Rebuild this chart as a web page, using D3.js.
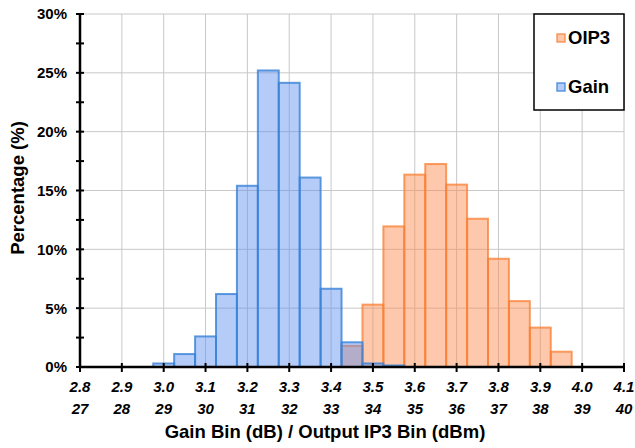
<!DOCTYPE html>
<html>
<head>
<meta charset="utf-8">
<script src="https://cdn.jsdelivr.net/npm/d3@7"></script>
<style>
  html, body { margin: 0; padding: 0; background: #fff; }
  svg { display: block; font-family: "Liberation Sans", Arial, sans-serif; }
</style>
</head>
<body>
<svg id="chart" width="635" height="448"></svg>
<script>
// ---- data ----
const gainBins = [3.0, 3.05, 3.1, 3.15, 3.2, 3.25, 3.3, 3.35, 3.4, 3.45, 3.5, 3.55];
const gainPct  = [0.3, 1.1, 2.6, 6.2, 15.4, 25.2, 24.15, 16.1, 6.65, 2.1, 0.3, 0.13];
const oipBins  = [33.5, 34, 34.5, 35, 35.5, 36, 36.5, 37, 37.5, 38, 38.5];
const oipPct   = [1.8, 5.3, 11.95, 16.35, 17.25, 15.5, 12.6, 9.2, 5.6, 3.35, 1.3];
const gainTicks = [2.8, 2.9, 3.0, 3.1, 3.2, 3.3, 3.4, 3.5, 3.6, 3.7, 3.8, 3.9, 4.0, 4.1];
const oipTicks  = [27, 28, 29, 30, 31, 32, 33, 34, 35, 36, 37, 38, 39, 40];
const yTicks    = [0, 5, 10, 15, 20, 25, 30];
const seriesNames = ["OIP3", "Gain"];

// ---- layout ----
const L = 80, R = 624, T = 14, B = 367;
const svg = d3.select("#chart");
const x = d3.scaleLinear().domain([2.8, 4.1]).range([L, R]);
const xo = d3.scaleLinear().domain([27, 40]).range([L, R]);
const y = d3.scaleLinear().domain([0, 30]).range([B, T]);

// grid
const grid = svg.append("g");
grid.selectAll("line.v").data(gainTicks.slice(1)).join("line")
  .attr("x1", d => x(d)).attr("x2", d => x(d)).attr("y1", T).attr("y2", B)
  .attr("stroke", "#c8c8c8").attr("stroke-width", 1);
grid.selectAll("line.h").data(yTicks.slice(1)).join("line")
  .attr("x1", L).attr("x2", R).attr("y1", d => y(d)).attr("y2", d => y(d))
  .attr("stroke", "#c8c8c8").attr("stroke-width", 1);

// bars
const oipW = 0.5, gainW = 0.05;
svg.append("g").selectAll("rect").data(oipBins.map((b, i) => ({b, v: oipPct[i]}))).join("rect")
  .attr("x", d => xo(d.b - oipW / 2)).attr("width", d => xo(d.b + oipW / 2) - xo(d.b - oipW / 2))
  .attr("y", d => y(d.v)).attr("height", d => y(0) - y(d.v))
  .attr("fill", "rgba(250,140,80,0.48)")
  .attr("stroke", "rgba(250,125,50,0.75)").attr("stroke-width", 2);

svg.append("g").selectAll("rect").data(gainBins.map((b, i) => ({b, v: gainPct[i]}))).join("rect")
  .attr("x", d => x(d.b - gainW / 2)).attr("width", d => x(d.b + gainW / 2) - x(d.b - gainW / 2))
  .attr("y", d => y(d.v)).attr("height", d => y(0) - y(d.v))
  .attr("fill", "rgba(90,140,240,0.45)")
  .attr("stroke", "rgba(55,130,215,0.8)").attr("stroke-width", 2);

// y axis
const yAxis = svg.append("g");
yAxis.append("line").attr("x1", L).attr("x2", L).attr("y1", T).attr("y2", B + 1)
  .attr("stroke", "#000").attr("stroke-width", 2.5);
const yMinor = d3.range(0, 30.01, 2.5);
yAxis.selectAll("line.t").data(yMinor).join("line")
  .attr("x1", L - 4).attr("x2", L + 4).attr("y1", d => y(d)).attr("y2", d => y(d))
  .attr("stroke", "#000").attr("stroke-width", 2);
yAxis.selectAll("text").data(yTicks).join("text")
  .attr("x", 67).attr("y", d => y(d)).attr("dy", "0.36em")
  .attr("text-anchor", "end").attr("font-size", 15).attr("font-weight", "bold")
  .text(d => d + "%");

// x axis
const xAxis = svg.append("g");
xAxis.append("line").attr("x1", L - 1).attr("x2", R + 1).attr("y1", B).attr("y2", B)
  .attr("stroke", "#000").attr("stroke-width", 2.5);
xAxis.selectAll("line.t").data(gainTicks).join("line")
  .attr("x1", d => x(d)).attr("x2", d => x(d)).attr("y1", B - 4).attr("y2", B + 5)
  .attr("stroke", "#000").attr("stroke-width", 2);
xAxis.selectAll("text.g").data(gainTicks).join("text")
  .attr("x", d => x(d)).attr("y", 392)
  .attr("text-anchor", "middle").attr("font-size", 15).attr("font-weight", "bold")
  .attr("font-style", "italic").text(d => d.toFixed(1));
xAxis.selectAll("text.o").data(oipTicks).join("text")
  .attr("x", d => xo(d)).attr("y", 414)
  .attr("text-anchor", "middle").attr("font-size", 15).attr("font-weight", "bold")
  .attr("font-style", "italic").text(d => d);

// titles
svg.append("text").attr("x", 325).attr("y", 438).attr("text-anchor", "middle")
  .attr("font-size", 18.5).attr("font-weight", "bold")
  .text("Gain Bin (dB) / Output IP3 Bin (dBm)");
svg.append("text").attr("transform", "translate(24,188) rotate(-90)").attr("text-anchor", "middle")
  .attr("font-size", 18.5).attr("font-weight", "bold").text("Percentage (%)");

// legend
const lg = svg.append("g");
lg.append("rect").attr("x", 534).attr("y", 14).attr("width", 90).attr("height", 96)
  .attr("fill", "#fff").attr("stroke", "#000").attr("stroke-width", 1.5);
const legendItems = [
  {name: seriesNames[0], fill: "rgba(250,140,80,0.48)", stroke: "rgba(250,125,50,0.75)", yy: 38},
  {name: seriesNames[1], fill: "rgba(90,140,240,0.45)", stroke: "rgba(55,130,215,0.8)", yy: 87}
];
lg.selectAll("rect.s").data(legendItems).join("rect")
  .attr("x", 557).attr("y", d => d.yy - 4).attr("width", 8).attr("height", 8)
  .attr("fill", d => d.fill).attr("stroke", d => d.stroke).attr("stroke-width", 1.5);
lg.selectAll("text").data(legendItems).join("text")
  .attr("x", 568).attr("y", d => d.yy + 6)
  .attr("font-size", 18.5).attr("font-weight", "bold").text(d => d.name);
</script>
</body>
</html>
